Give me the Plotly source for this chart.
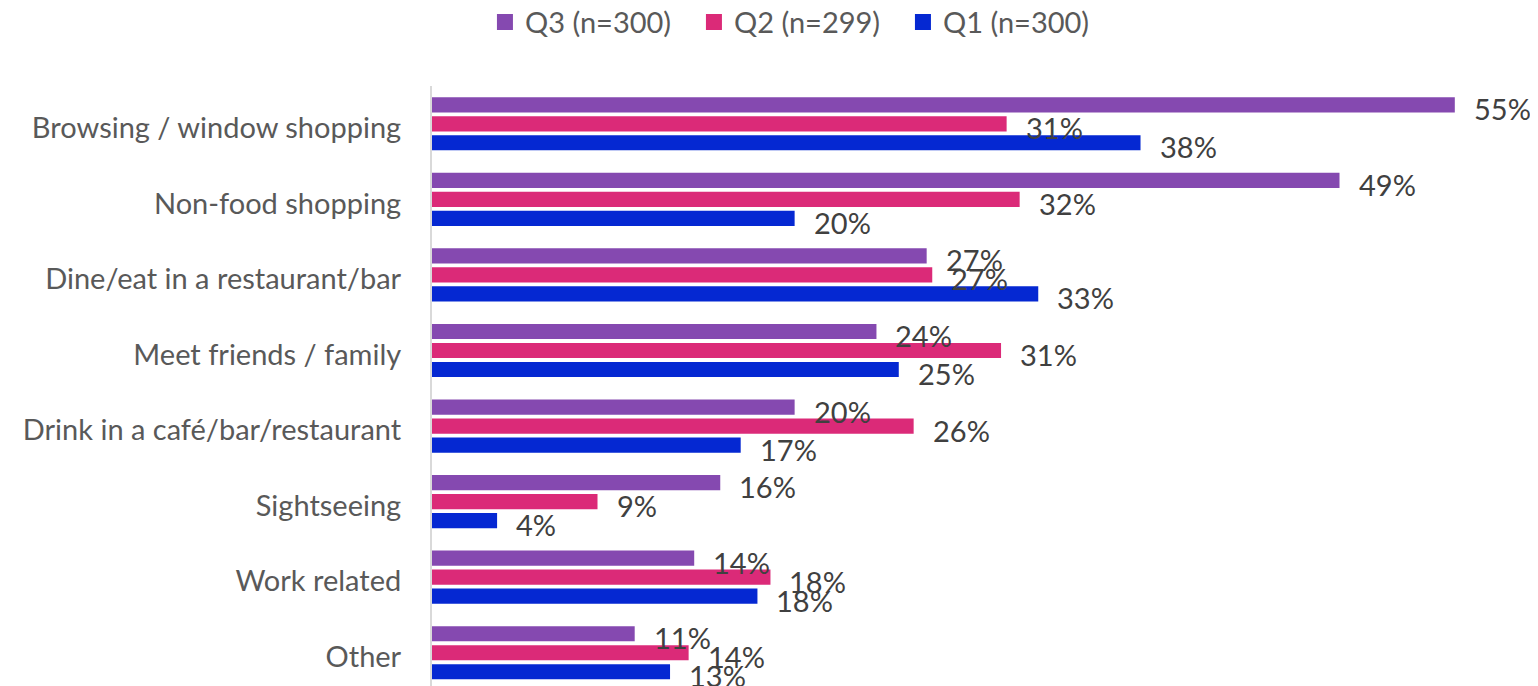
import plotly.graph_objects as go

categories = ["Browsing / window shopping", "Non-food shopping", "Dine/eat in a restaurant/bar",
              "Meet friends / family", "Drink in a café/bar/restaurant", "Sightseeing",
              "Work related", "Other"]
q3 = [55.0, 48.8, 26.6, 23.9, 19.5, 15.5, 14.1, 10.9]
q2 = [30.9, 31.6, 26.9, 30.6, 25.9, 8.9, 18.2, 13.8]
q1 = [38.1, 19.5, 32.6, 25.1, 16.6, 3.5, 17.5, 12.8]
series_names = ["Q3 (n=300)", "Q2 (n=299)", "Q1 (n=300)"]
series_values = [q3, q2, q1]
colors = ["#8549B0", "#DB2A78", "#0528D2"]

FONT = "Lato"
fig = go.Figure()
for name, vals, col in zip(series_names, series_values, colors):
    fig.add_trace(go.Bar(
        y=categories, x=vals, name=name, orientation="h", showlegend=False,
        marker=dict(color=col, line=dict(width=0)),
    ))
# legend entries with square swatches
for name, col in zip(series_names, colors):
    fig.add_trace(go.Scatter(
        x=[None], y=[None], mode="markers", name=name,
        marker=dict(symbol="square", size=17, color=col),
    ))

# data labels
pitch = 19
for i, vals in enumerate(series_values):
    for cat, v in zip(categories, vals):
        fig.add_annotation(
            x=v, y=cat, text=f"{int(v + 0.5):d}%", showarrow=False,
            xanchor="left", yanchor="middle", xshift=17,
            yshift=-(i - 1) * pitch - 4,
            font=dict(family=FONT, size=29, color="#404040"),
        )

fig.update_layout(
    width=1530, height=678,
    margin=dict(l=424, r=46, t=78, b=0, autoexpand=False),
    paper_bgcolor="white", plot_bgcolor="white",
    barmode="group", bargap=0.246, bargroupgap=0.2,
    font=dict(family=FONT, color="#595959"),
    legend=dict(orientation="h", x=0.3457, xanchor="center", y=0.979, yanchor="middle",
                yref="container", entrywidth=164, entrywidthmode="pixels",
                font=dict(size=29, color="#595959"), traceorder="normal"),
    xaxis=dict(range=[0, 57], showticklabels=False, showgrid=False, zeroline=False,
               showline=False, ticks="", automargin=False),
    yaxis=dict(autorange=False, range=[7.44, -0.5], showgrid=False, zeroline=False,
               showline=True, linecolor="#D9D9D9", linewidth=2, automargin=False,
               ticks="", ticklabelstandoff=23, ticklabelshift=-4,
               tickfont=dict(size=29, color="#595959")),
)
fig.write_html("out.html")
